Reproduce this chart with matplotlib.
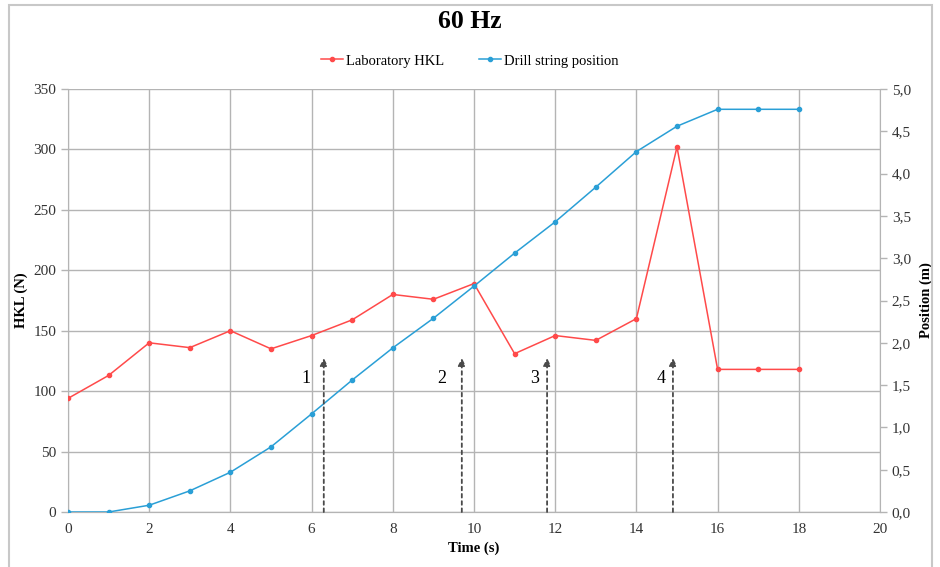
import matplotlib
matplotlib.use('Agg')
import matplotlib.pyplot as plt
from matplotlib.patches import Rectangle
from matplotlib.ticker import FuncFormatter

# data
time_s = list(range(19))
hkl_n = [94, 113, 140, 136, 150, 135, 146, 159, 180, 176, 189,
         131, 146, 142, 160, 302, 118, 118, 118]
position_m = [0.0, 0.0, 0.08, 0.25, 0.47, 0.77, 1.16, 1.56, 1.94, 2.29, 2.67,
              3.06, 3.43, 3.84, 4.26, 4.56, 4.76, 4.76, 4.76]

# event markers (dashed arrows)
event_labels = ['1', '2', '3', '4']
event_x = [6.3, 9.7, 11.8, 14.9]
event_top_m = 1.82
label_x = [5.85, 9.2, 11.5, 14.6]
label_y_m = 1.58

red = '#FF4A4A'
blue = '#2A9FD6'
grid_c = '#B4B4B4'
serif = ['Liberation Serif', 'DejaVu Serif']

plt.rcParams['font.family'] = serif

fig = plt.figure(figsize=(9.4, 5.67), dpi=100)
ax = fig.add_axes([68 / 940, 1 - 512 / 567, (880 - 68) / 940, (512 - 89) / 567])
ax2 = ax.twinx()

# outer chart frame
fig.patches.append(Rectangle((9 / 940, -0.01), (932 - 9) / 940, 1.01 - 5 / 567,
                             transform=fig.transFigure, fill=False,
                             edgecolor='#C8C8C8', linewidth=1.5))

ax.plot(time_s, hkl_n, color=red, lw=1.1, marker='o', ms=3, zorder=3,
        label='Laboratory HKL')
ax2.plot(time_s, position_m, color=blue, lw=1.1, marker='o', ms=3, zorder=3,
         label='Drill string position')

for lab, xa, xl in zip(event_labels, event_x, label_x):
    ax2.annotate('', xy=(xa, event_top_m), xytext=(xa, 0.0),
                 arrowprops=dict(arrowstyle='-|>', linestyle=(0, (2, 2)),
                                 color='#4A4A4A', lw=1.3, mutation_scale=11,
                                 shrinkA=0, shrinkB=0))
    ax2.text(xl, label_y_m, lab, fontsize=13, ha='center', va='center')

ax.set_xlim(0, 20)
ax.set_ylim(0, 350)
ax2.set_ylim(0, 5)
ax.set_xticks(range(0, 21, 2))
ax.set_yticks(range(0, 351, 50))
ax2.set_yticks([i * 0.5 for i in range(11)])
ax2.yaxis.set_major_formatter(FuncFormatter(lambda v, p: f'{v:.1f}'.replace('.', ',')))

ax.grid(True, color=grid_c, lw=1.0)
ax.set_axisbelow(True)
for a in (ax, ax2):
    for s in a.spines.values():
        s.set_color(grid_c)
    a.spines['top'].set_visible(False)
    a.tick_params(colors='#333333', labelsize=11, length=5, width=1,
                  color=grid_c)
ax.spines['right'].set_visible(False)
ax2.spines['left'].set_visible(False)
ax.tick_params(axis='x', length=0, pad=8)

ax.set_xlabel('Time (s)', fontsize=10.5, fontweight='bold', labelpad=4)
ax.set_ylabel('HKL (N)', fontsize=10.5, fontweight='bold', labelpad=4)
ax2.set_ylabel('Position (m)', fontsize=10.5, fontweight='bold', labelpad=6)

fig.text(0.5, 1 - 22 / 567, '60 Hz', ha='center', va='center',
         fontsize=18.5, fontweight='bold')

h1, l1 = ax.get_legend_handles_labels()
h2, l2 = ax2.get_legend_handles_labels()
fig.legend(h1 + h2, l1 + l2, loc='center', bbox_to_anchor=(0.5, 1 - 61 / 567),
           ncol=2, frameon=False, fontsize=10.5, handlelength=1.5,
           handletextpad=0.2, columnspacing=2.4)

fig.savefig('out.png', dpi=100)
